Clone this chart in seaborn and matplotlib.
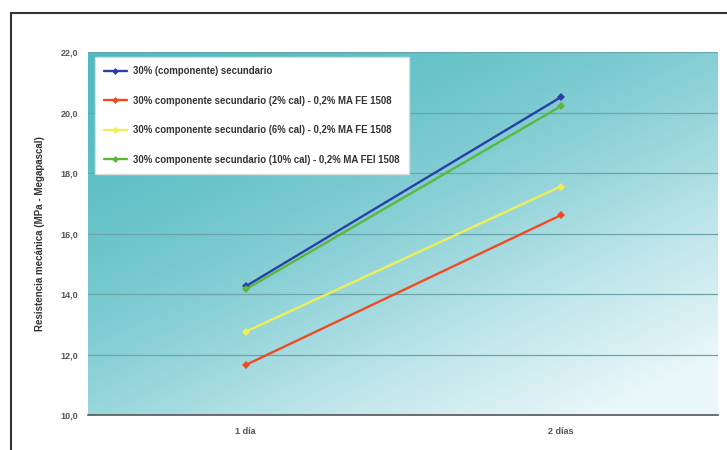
import numpy as np
import pandas as pd
import matplotlib
matplotlib.use("Agg")
import matplotlib.pyplot as plt
import seaborn as sns
from matplotlib.colors import LinearSegmentedColormap
from matplotlib.lines import Line2D

categories = ["1 día", "2 días"]
series_names = [
    "30% (componente) secundario",
    "30% componente secundario (2% cal) - 0,2% MA FE 1508",
    "30% componente secundario (6% cal) - 0,2% MA FE 1508",
    "30% componente secundario (10% cal) - 0,2% MA FEI 1508",
]
blue_vals = [14.25, 20.5]
red_vals = [11.65, 16.6]
yellow_vals = [12.75, 17.55]
green_vals = [14.15, 20.2]
yticks = [10, 12, 14, 16, 18, 20, 22]
ytick_labels = ["10,0", "12,0", "14,0", "16,0", "18,0", "20,0", "22,0"]
colors = ["#2b3fa6", "#f04a22", "#efef55", "#5cb83c"]

rows = []
for name, vals in zip(series_names, [blue_vals, red_vals, yellow_vals, green_vals]):
    for c, v in zip(categories, vals):
        rows.append({"Edad": c, "Resistencia": v, "Serie": name})
df = pd.DataFrame(rows)

sns.set_theme(style="white")
plt.rcParams['font.family'] = ['Liberation Sans', 'DejaVu Sans']

fig = plt.figure(figsize=(7.27, 4.5), dpi=100)
ax = fig.add_axes([88/727, 35/450, 630/727, 363/450])

# gradient background
nx, ny = 200, 120
xx, yy = np.meshgrid(np.linspace(0, 1, nx), np.linspace(0, 1, ny))
t = np.clip(0.5 * xx + 0.6 * yy, 0, 1) ** 1.6
cmap = LinearSegmentedColormap.from_list("g", ["#52bbc1", "#86cfd5", "#bfe6ea", "#e9f6fa"])
ax.imshow(t, cmap=cmap, extent=[-0.5, 1.5, 10, 22], origin="upper",
          aspect="auto", zorder=0, interpolation="bilinear")

for y in yticks[1:]:
    ax.axhline(y, color="#6aa5a9", lw=0.9, zorder=1)

sns.lineplot(data=df, x="Edad", y="Resistencia", hue="Serie", style="Serie",
             palette=colors, markers=["D"] * 4, dashes=False, markersize=4,
             markeredgewidth=0, linewidth=1.7, ax=ax, legend=False, zorder=3)

ax.set_xlim(-0.5, 1.5)
ax.set_ylim(10, 22)
ax.set_yticks(yticks)
ax.set_yticklabels(ytick_labels)
ax.set_xticks([0, 1])
ax.set_xticklabels(categories)
ax.tick_params(axis="both", length=0, labelsize=6.5, labelcolor="#555555", pad=7)
ax.tick_params(axis="x", pad=9)
for lbl in ax.get_xticklabels() + ax.get_yticklabels():
    lbl.set_fontweight("bold")
ax.set_xlabel("")
ax.set_ylabel("Resistencia mecánica (MPa - Megapascal)", fontsize=7, fontweight="bold",
              color="#333333", labelpad=11)
for s in ["top", "right", "left"]:
    ax.spines[s].set_visible(False)
ax.spines["bottom"].set_color("#555555")
ax.spines["bottom"].set_linewidth(1.2)

handles = [Line2D([0], [0], color=c, lw=1.7, marker="D", markersize=3.5, markeredgewidth=0)
           for c in colors]
leg = ax.legend(handles, series_names, loc="upper left", bbox_to_anchor=(0.003, 1.0),
                fontsize=6.9, frameon=True, fancybox=False, framealpha=1,
                edgecolor="#dddddd", handlelength=2.4, labelspacing=2.05,
                borderpad=0.95, handletextpad=0.7)
leg.get_frame().set_facecolor("white")
for txt in leg.get_texts():
    txt.set_color("#333333")
    txt.set_fontweight("bold")

# figure border (top and left)
fig.add_artist(Line2D([11/727, 11/727], [0, 1 - 13/450], color="#333333", lw=1.5,
                      transform=fig.transFigure))
fig.add_artist(Line2D([11/727, 1], [1 - 13/450, 1 - 13/450], color="#333333", lw=1.5,
                      transform=fig.transFigure))

fig.savefig("out.png", dpi=100)
